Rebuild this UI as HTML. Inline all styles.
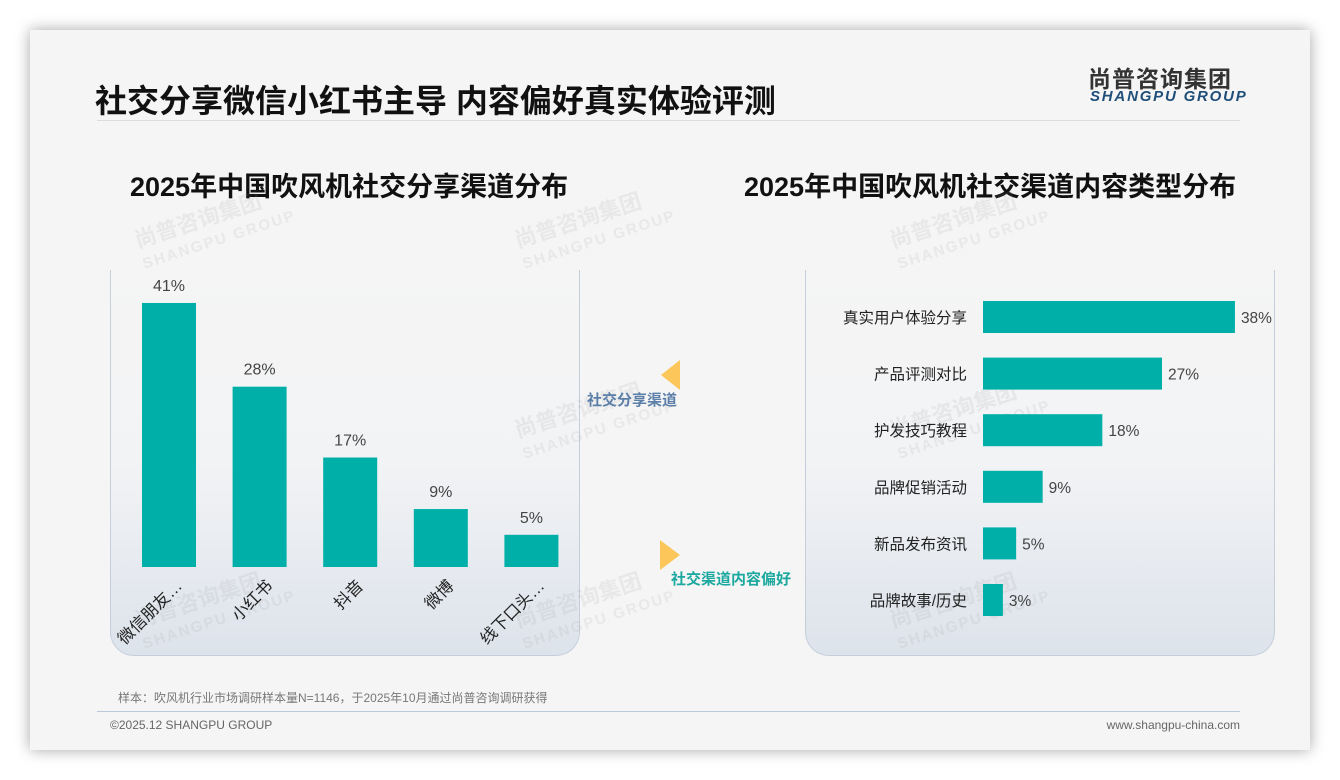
<!DOCTYPE html>
<html><head><meta charset="utf-8"><style>
body{margin:0;width:1340px;height:780px;background:#fff;overflow:hidden;font-family:"Liberation Sans","Noto Sans CJK SC",sans-serif}
#slide{position:absolute;left:30px;top:30px;width:1280px;height:720px;background:#f5f5f5;box-shadow:0 0 14px rgba(0,0,0,.35)}
.t{position:absolute;white-space:nowrap}
.panel{position:absolute;top:240px;width:468px;height:385px;border:1px solid #c5cfdc;border-top:none;border-radius:0 0 24px 24px;background:linear-gradient(#f5f5f5 0%,#f2f3f5 50%,#dde3eb 100%)}
.wm{position:absolute;color:rgba(150,150,150,.13);font-weight:bold;transform:rotate(-18deg);line-height:1}
</style></head><body>
<div id="slide">
<div class="t" style="left:65px;top:46px;font-size:32px;font-weight:bold;color:#111">社交分享微信小红书主导 内容偏好真实体验评测</div>
<div style="position:absolute;left:67px;top:90px;width:1143px;height:1px;background:#dcdcdc"></div>
<div class="t" style="left:1058px;top:30px;font-size:23px;font-weight:bold;color:#333;letter-spacing:1px">尚普咨询集团</div>
<div class="t" style="left:1060px;top:58px;font-size:15px;font-weight:bold;font-style:italic;color:#1f4e79;letter-spacing:1.8px">SHANGPU GROUP</div>
<div class="t" style="left:100px;top:135px;font-size:27px;font-weight:bold;color:#111">2025年中国吹风机社交分享渠道分布</div>
<div class="t" style="left:714px;top:135px;font-size:27px;font-weight:bold;color:#111">2025年中国吹风机社交渠道内容类型分布</div>
<div class="panel" style="left:80px"></div>
<div class="panel" style="left:775px"></div>
<div class="wm" style="left:105px;top:175px;font-size:22px">尚普咨询集团<br><span style="font-size:15px;letter-spacing:2px">SHANGPU GROUP</span></div>
<div class="wm" style="left:485px;top:175px;font-size:22px">尚普咨询集团<br><span style="font-size:15px;letter-spacing:2px">SHANGPU GROUP</span></div>
<div class="wm" style="left:860px;top:175px;font-size:22px">尚普咨询集团<br><span style="font-size:15px;letter-spacing:2px">SHANGPU GROUP</span></div>
<div class="wm" style="left:485px;top:365px;font-size:22px">尚普咨询集团<br><span style="font-size:15px;letter-spacing:2px">SHANGPU GROUP</span></div>
<div class="wm" style="left:860px;top:365px;font-size:22px">尚普咨询集团<br><span style="font-size:15px;letter-spacing:2px">SHANGPU GROUP</span></div>
<div class="wm" style="left:105px;top:555px;font-size:22px">尚普咨询集团<br><span style="font-size:15px;letter-spacing:2px">SHANGPU GROUP</span></div>
<div class="wm" style="left:485px;top:555px;font-size:22px">尚普咨询集团<br><span style="font-size:15px;letter-spacing:2px">SHANGPU GROUP</span></div>
<div class="wm" style="left:860px;top:555px;font-size:22px">尚普咨询集团<br><span style="font-size:15px;letter-spacing:2px">SHANGPU GROUP</span></div>
<svg style="position:absolute;left:0;top:0" width="1280" height="720">
<polygon points="650,330 650,360 631,345" fill="#fcc65a"/>
<polygon points="630,510 630,540 650,525" fill="#fcc65a"/>
</svg>
<div class="t" style="left:557px;top:359px;font-size:15px;font-weight:bold;color:#5b7fa8">社交分享渠道</div>
<div class="t" style="left:641px;top:538px;font-size:15px;font-weight:bold;color:#1aa89f">社交渠道内容偏好</div>
<svg id="chart" style="position:absolute;left:0;top:0" width="1280" height="720"></svg>
<div class="t" style="left:88px;top:659px;font-size:12px;color:#777">样本：吹风机行业市场调研样本量N=1146，于2025年10月通过尚普咨询调研获得</div>
<div style="position:absolute;left:67px;top:681px;width:1143px;height:1px;background:#b9c8d8"></div>
<div class="t" style="left:80px;top:688px;font-size:12px;color:#666">©2025.12 SHANGPU GROUP</div>
<div class="t" style="right:70px;top:688px;font-size:12px;color:#666">www.shangpu-china.com</div>
</div>
<script>
const leftCats=["微信朋友…","小红书","抖音","微博","线下口头…"];
const leftVals=[41,28,17,9,5];
const rightCats=["真实用户体验分享","产品评测对比","护发技巧教程","品牌促销活动","新品发布资讯","品牌故事/历史"];
const rightVals=[38,27,18,9,5,3];
const NS="http://www.w3.org/2000/svg";
const svg=document.getElementById('chart');
function mk(t,a,txt){const e=document.createElementNS(NS,t);for(const k in a)e.setAttribute(k,a[k]);if(txt!==undefined)e.textContent=txt;svg.appendChild(e);return e;}
const baseY=537, yScale=v=>v*6.44, x0=139, step=90.6, bw=54;
leftVals.forEach((v,i)=>{
  const cx=x0+i*step, h=yScale(v);
  const r=mk('rect',{x:cx-bw/2,y:baseY-h,width:bw,height:h,fill:'#00b0a8'});
  
  
  const l=mk('text',{x:cx,y:baseY-h-12,'text-anchor':'middle','font-size':16,fill:'#444'},v+'%');
  
  
  const ax=cx+14, ay=baseY+20;
  const c=mk('text',{x:ax,y:ay,'text-anchor':'end','font-size':16.5,fill:'#222',transform:`rotate(-45 ${ax} ${ay})`},leftCats[i]);
  
  
});
const bx=953, xScale=v=>v*6.63, y0=287, rstep=56.6, bh=32;
rightVals.forEach((v,i)=>{
  const cy=y0+i*rstep, w=xScale(v);
  const r=mk('rect',{x:bx,y:cy-bh/2,width:w,height:bh,fill:'#00b0a8'});
  
  
  const l=mk('text',{x:bx+w+6,y:cy+6,'font-size':15.5,fill:'#444'},v+'%');
  
  
  const c=mk('text',{x:bx-16,y:cy+6,'text-anchor':'end','font-size':15.5,fill:'#222'},rightCats[i]);
  
  
});
</script>
</body></html>
